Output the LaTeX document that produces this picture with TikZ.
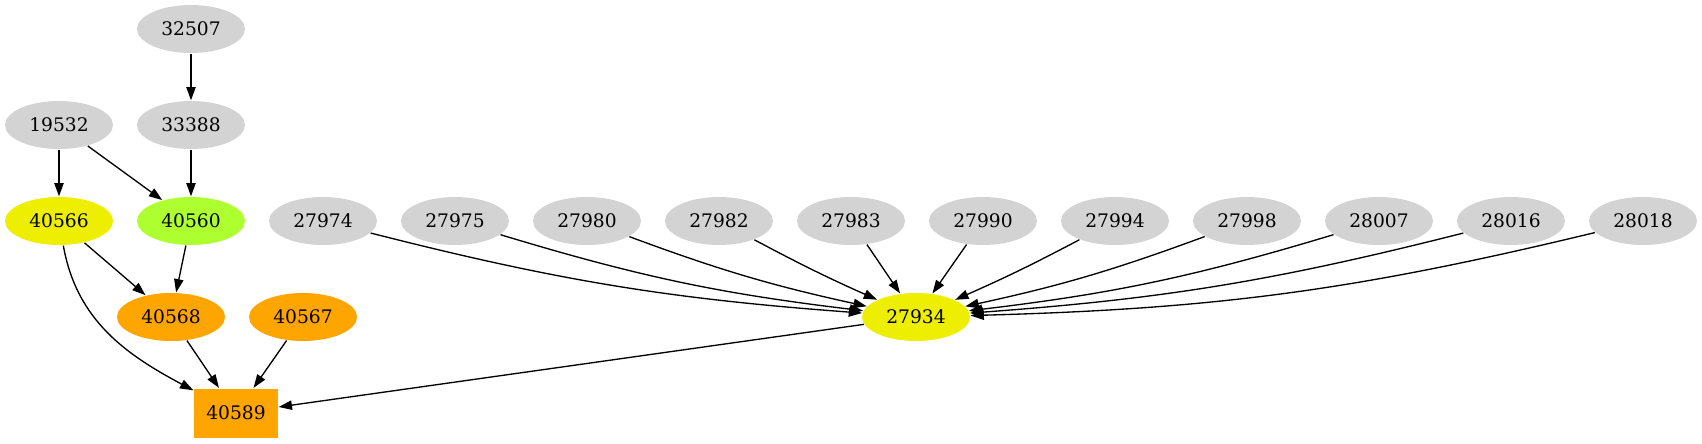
\documentclass[tikz,border=0pt]{standalone}
\usepackage{fontspec}
\setmainfont{DejaVu Serif}
\usetikzlibrary{shapes}
\usetikzlibrary{arrows.meta}
\usetikzlibrary{positioning}
\definecolor{gvgray}{HTML}{D3D3D3}
\definecolor{gvyellow}{HTML}{EEEE00}
\definecolor{gvgreen}{HTML}{ADFF2F}
\definecolor{gvorange}{HTML}{FFA500}

\begin{document}
\begin{tikzpicture}[x=0.75pt,y=-0.75pt,line width=1pt,
    job/.style={ellipse,inner sep=0pt,minimum width=81pt,minimum height=36pt,
      font=\fontsize{14pt}{16pt}\selectfont},
    grayjob/.style={job,fill=gvgray},
    link/.style={-{Triangle[length=10pt,width=7pt]}}]
    \useasboundingbox (0,0) rectangle (1702,443);
    % upper chain
    \node[grayjob] (n32507) at (191,29) {32507};
    \node[grayjob] (n33388) at (191,125) {33388};
    \node[grayjob] (n19532) at (59,125) {19532};
    \node[job,fill=gvyellow] (n40566) at (59,221) {40566};
    \node[job,fill=gvgreen] (n40560) at (191,221) {40560};
    \node[job,fill=gvorange] (n40568) at (171,317) {40568};
    \node[job,fill=gvorange] (n40567) at (303,317) {40567};
    \node[rectangle,fill=gvorange,inner sep=0pt,minimum width=63pt,minimum height=36.75pt,
      font=\fontsize{14pt}{16pt}\selectfont] (n40589) at (236,413) {40589};
    % sources of 27934
    \node[grayjob] (n27974) at (323,221) {27974};
    \node[grayjob] (n27975) at (455,221) {27975};
    \node[grayjob] (n27980) at (587,221) {27980};
    \node[grayjob] (n27982) at (719,221) {27982};
    \node[grayjob] (n27983) at (851,221) {27983};
    \node[grayjob] (n27990) at (983,221) {27990};
    \node[grayjob] (n27994) at (1115,221) {27994};
    \node[grayjob] (n27998) at (1247,221) {27998};
    \node[grayjob] (n28007) at (1379,221) {28007};
    \node[grayjob] (n28016) at (1511,221) {28016};
    \node[grayjob] (n28018) at (1643,221) {28018};
    \node[job,fill=gvyellow] (n27934) at (916,317) {27934};

    \draw[link] (n32507) -- (n33388);
    \draw[link] (n19532) -- (n40566);
    \draw[link] (n19532) -- (n40560);
    \draw[link] (n33388) -- (n40560);
    \draw[link] (n40566) -- (n40568);
    \draw[link] (n40560) -- (n40568);
    \draw[link] (n40566) to[out=-80,in=152] (n40589);
    \draw[link] (n40568) -- (n40589);
    \draw[link] (n40567) -- (n40589);
    \draw[link] (n27934) -- (n40589);

    \draw[link] (n27974) to[bend right=5] (n27934);
    \draw[link] (n27975) to[bend right=5] (n27934);
    \draw[link] (n27980) to[bend right=4] (n27934);
    \draw[link] (n27982) to[bend right=2] (n27934);
    \draw[link] (n27983) -- (n27934);
    \draw[link] (n27990) -- (n27934);
    \draw[link] (n27994) to[bend left=2] (n27934);
    \draw[link] (n27998) to[bend left=4] (n27934);
    \draw[link] (n28007) to[bend left=5] (n27934);
    \draw[link] (n28016) to[bend left=5] (n27934);
    \draw[link] (n28018) to[bend left=6] (n27934);
\end{tikzpicture}
\end{document}
